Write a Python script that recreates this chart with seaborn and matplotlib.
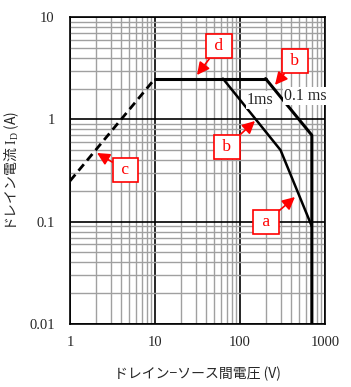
import seaborn as sns
import matplotlib.pyplot as plt
import pandas as pd
import numpy as np

# safe operating area data
c_v = [1, 10]
c_i = [0.25, 2.5]
d_v = [10, 200]
d_i = [2.5, 2.5]
b01_v = [200, 700, 700]
b01_i = [2.5, 0.7, 0.01]
b1_v = [63, 300, 700]
b1_i = [2.5, 0.5, 0.09]

x_ticks = [1, 10, 100, 1000]
x_ticklabels = ['1', '10', '100', '1000']
y_ticks = [0.01, 0.1, 1, 10]
y_ticklabels = ['0.01', '0.1', '1', '10']

# label text, box position, arrow target
labels = ['d', 'b', 'b', 'c', 'a']
label_xy = [(56.6, 5.2), (443, 3.72), (70, 0.537), (4.5, 0.32), (202, 0.099)]
arrow_xy = [(31.2, 2.71), (258, 2.17), (150, 0.963), (2.08, 0.469), (443, 0.174)]

sns.set_style('white')
plt.rcParams['font.family'] = ['Noto Sans CJK JP', 'DejaVu Sans']
plt.rcParams['mathtext.fontset'] = 'custom'
plt.rcParams['mathtext.rm'] = 'Liberation Serif'
plt.rcParams['mathtext.it'] = 'Liberation Serif'

fig = plt.figure(figsize=(3.51, 3.87), dpi=100)
ax = fig.add_axes([70 / 351, 1 - 324 / 387, 255 / 351, 307 / 387])

ax.set_xscale('log')
ax.set_yscale('log')
ax.set_xlim(1, 1000)
ax.set_ylim(0.01, 10)

ax.grid(True, which='minor', color='#a0a0a0', lw=1.0)
ax.grid(True, which='major', color='black', lw=1.2)
ax.set_axisbelow(True)

def seg(v, i, **kw):
    df = pd.DataFrame({'v': v, 'i': i})
    sns.lineplot(data=df, x='v', y='i', sort=False, estimator=None, ax=ax,
                 color='black', **kw)

seg(c_v, c_i, lw=2.0, linestyle=(0, (3, 1.8)))
seg(d_v, d_i, lw=2.2)
seg(b01_v, b01_i, lw=2.2)
seg(b1_v, b1_i, lw=1.8)

ax.text(172, 1.55, '1ms', family='Liberation Serif', fontsize=11.5,
        ha='center', va='center',
        bbox=dict(boxstyle='square,pad=0.05', fc='white', ec='none'))
ax.text(590, 1.69, '0.1 ms', family='Liberation Serif', fontsize=11.5,
        ha='center', va='center',
        bbox=dict(boxstyle='square,pad=0.05', fc='white', ec='none'))

for t, xy, tgt in zip(labels, label_xy, arrow_xy):
    ax.annotate(' ' + t + ' ', xy=tgt, xytext=xy, color='red',
                family='Liberation Serif', fontsize=12.5, ha='center', va='center',
                bbox=dict(boxstyle='square,pad=0.25', fc='white', ec='red', lw=1.2),
                arrowprops=dict(arrowstyle='-|>,head_length=0.6,head_width=0.3',
                                color='red', lw=1.2, shrinkA=0, shrinkB=0))

ax.set_xticks(x_ticks)
ax.set_xticklabels(x_ticklabels, family='Liberation Serif', fontsize=10.5)
ax.set_yticks(y_ticks)
ax.set_yticklabels(y_ticklabels, family='Liberation Serif', fontsize=10.5)
ax.tick_params(which='both', length=0)
ax.tick_params(axis='x', pad=9)
ax.tick_params(axis='y', pad=11)

for s in ax.spines.values():
    s.set_color('black')
    s.set_linewidth(1.2)

ax.set_xlabel('ドレイン−ソース間電圧 (V)', fontsize=10, labelpad=12)
ax.set_ylabel('ドレイン電流 $\\mathrm{I_D}$ (A)', fontsize=10, labelpad=6)

fig.savefig('out.png', dpi=100)
